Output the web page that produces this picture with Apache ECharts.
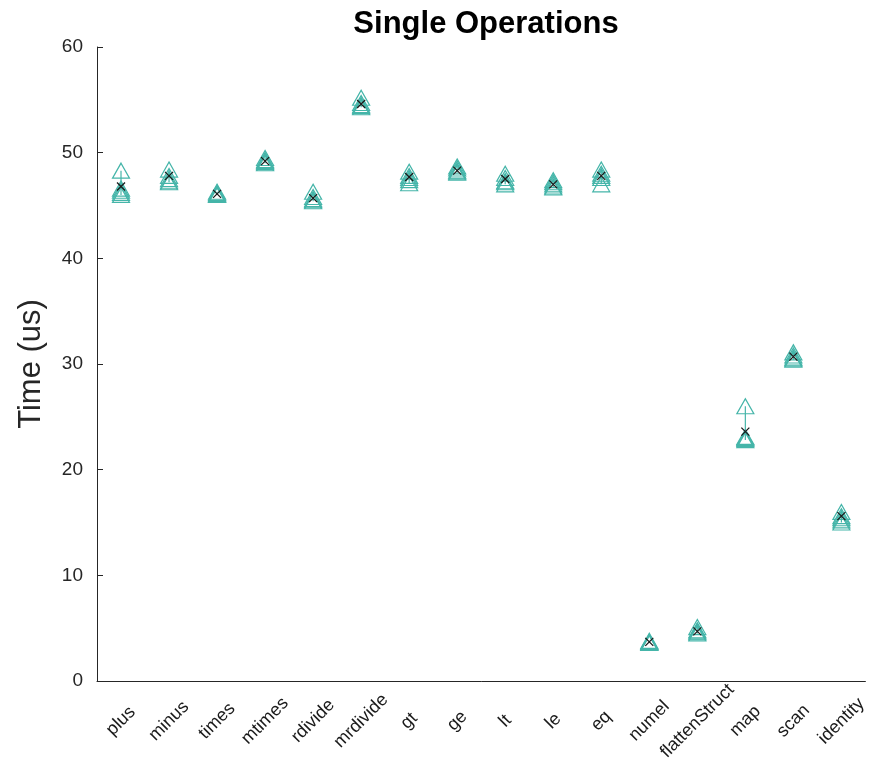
<!DOCTYPE html>
<html>
<head>
<meta charset="utf-8">
<script src="https://cdn.jsdelivr.net/npm/echarts@6/dist/echarts.min.js"></script>
<style>html,body{margin:0;padding:0;background:#fff}#c{width:870px;height:769px}</style>
</head>
<body>
<div id="c"></div>
<script>
const categories = ['plus','minus','times','mtimes','rdivide','mrdivide','gt','ge','lt','le','eq','numel','flattenStruct','map','scan','identity'];
const run1 = [48.3, 48.4, 46.0, 49.5, 46.3, 55.2, 48.2, 48.7, 48.0, 47.4, 48.4, 3.8, 5.1, 26.0, 31.1, 16.0];
const run2 = [46.0, 47.8, 46.1, 49.3, 45.8, 54.7, 47.8, 48.5, 47.6, 47.2, 48.0, 3.7, 4.8, 23.0, 30.8, 15.6];
const run3 = [46.2, 47.5, 46.2, 49.1, 45.5, 54.4, 47.4, 48.2, 47.3, 47.0, 47.6, 3.6, 4.6, 22.8, 30.6, 15.2];
const run4 = [46.4, 47.3, 46.0, 49.0, 45.4, 54.3, 47.1, 48.1, 47.0, 46.8, 47.0, 3.7, 4.7, 22.9, 30.4, 15.4];
const run5 = [46.6, 47.2, 46.3, 49.2, 45.6, 54.5, 47.6, 48.3, 47.2, 46.7, 47.8, 3.6, 4.5, 23.1, 30.5, 15.0];
const means = [46.8, 47.8, 46.1, 49.2, 45.7, 54.6, 47.7, 48.3, 47.5, 47.0, 47.8, 3.7, 4.7, 23.6, 30.7, 15.6];
const yTicks = [0, 10, 20, 30, 40, 50, 60];

const runs = [run1, run2, run3, run4, run5];
const teal = '#45b5a9';
const rangeData = categories.map((c, i) => {
  const vals = runs.map(r => r[i]);
  return [i, Math.min(...vals), Math.max(...vals)];
});

const triSeries = runs.map((r, k) => ({
  type: 'scatter',
  name: 'run' + (k + 1),
  data: r.map((v, i) => [i, v]),
  symbol: 'triangle',
  symbolSize: [17, 15],
  itemStyle: { color: 'rgba(0,0,0,0)', borderColor: teal, borderWidth: 1.2, opacity: 1 },
  z: 3
}));

const chart = echarts.init(document.getElementById('c'), null, { renderer: 'canvas' });
chart.setOption({
  animation: false,
  backgroundColor: '#fff',
  title: {
    text: 'Single Operations',
    left: 481, top: 4, textAlign: 'center',
    textStyle: { fontFamily: 'Liberation Sans', fontSize: 31, fontWeight: 'bold', color: '#000' }
  },
  grid: { left: 97, right: 3, top: 47, bottom: 88, containLabel: false },
  xAxis: {
    type: 'category',
    data: categories,
    boundaryGap: true,
    axisLine: { lineStyle: { color: '#262626', width: 1 } },
    axisTick: { show: false },
    axisLabel: {
      rotate: 45, align: 'center', verticalAlign: 'middle',
      fontFamily: 'Liberation Sans', fontSize: 18, color: '#1a1a1a', margin: 40, interval: 0
    },
    splitLine: { show: false }
  },
  yAxis: {
    type: 'value',
    min: 0, max: 60, interval: 10,
    name: 'Time (us)',
    nameLocation: 'middle',
    nameGap: 50,
    nameTextStyle: { fontFamily: 'Liberation Sans', fontSize: 31, color: '#262626' },
    axisLine: { show: true, lineStyle: { color: '#262626', width: 1 } },
    axisTick: { show: true, inside: true, length: 6, lineStyle: { color: '#262626' } },
    axisLabel: {
      fontFamily: 'Liberation Sans', fontSize: 19, color: '#262626', margin: 14,
      formatter: v => (yTicks.indexOf(v) >= 0 ? String(v) : '')
    },
    splitLine: { show: false }
  },
  series: [
    {
      type: 'custom',
      name: 'range',
      data: rangeData,
      renderItem: (params, api) => {
        const p1 = api.coord([api.value(0), api.value(1)]);
        const p2 = api.coord([api.value(0), api.value(2)]);
        return { type: 'line', shape: { x1: p1[0], y1: p1[1], x2: p2[0], y2: p2[1] }, style: { stroke: teal, lineWidth: 1.2 } };
      },
      z: 2
    },
    ...triSeries,
    {
      type: 'scatter',
      name: 'mean',
      data: means.map((v, i) => [i, v]),
      symbol: 'path://M0,0L10,10M10,0L0,10',
      symbolSize: 8,
      itemStyle: { color: 'rgba(0,0,0,0)', borderColor: '#1a1a1a', borderWidth: 1.3, opacity: 1 },
      z: 5
    }
  ]
});
</script>
</body>
</html>
